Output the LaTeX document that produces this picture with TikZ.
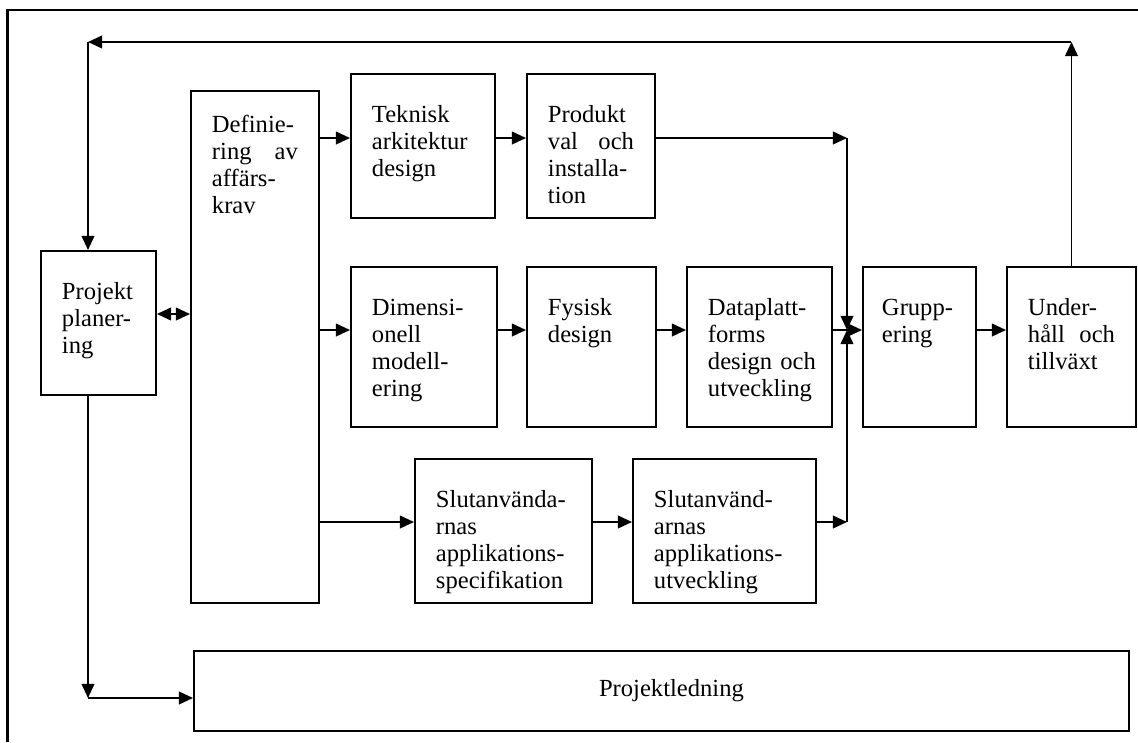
\documentclass[tikz,border=0pt]{standalone}
\usepackage{fontspec}
\setmainfont{Liberation Serif}
\usetikzlibrary{arrows.meta}

\begin{document}
\begin{tikzpicture}[x=1cm,y=1cm,
  stage/.style={draw,line width=1.4pt,anchor=north west,inner xsep=0.525cm,inner ysep=0pt,
    align=left,text height=1.225cm,font=\fontsize{17.5pt}{19.2pt}\selectfont},
  flow/.style={line width=1.3pt,-{Triangle[length=10pt,width=9pt]}},
  twoway/.style={line width=1.3pt,{Triangle[length=10pt,width=9pt]}-{Triangle[length=10pt,width=9pt]}}]
\path[use as bounding box] (0,0) rectangle (28.45,18.55);
\draw[line width=1.8pt] (0.19,0) -- (0.19,18.30) -- (28.50,18.30);
\node[stage,text width=1.825cm,text depth=2.375cm] (plan) at (1.00,12.30) {Projekt\\planer-\\ing};
\node[stage,text width=2.15cm,text height=1.05cm,text depth=11.75cm] (def) at (4.75,16.30) {Definie-\\ring \hfill av\\affärs-\\krav};
\node[stage,text width=2.55cm,text depth=2.375cm] (tek) at (8.75,16.725) {Teknisk\\arkitektur\\design};
\node[stage,text width=2.15cm,text depth=2.375cm] (prod) at (13.15,16.725) {Produkt\\val \hfill och\\installa-\\tion};
\node[stage,text width=2.60cm,text depth=2.775cm] (dim) at (8.75,11.90) {Dimensi-\\onell\\modell-\\ering};
\node[stage,text width=2.175cm,text depth=2.775cm] (fys) at (13.15,11.90) {Fysisk\\design};
\node[stage,text width=2.575cm,text depth=2.775cm] (data) at (17.15,11.90) {Dataplatt-\\forms\\\mbox{design och}\\utveckling};
\node[stage,inner xsep=0.475cm,text width=1.875cm,text depth=2.775cm] (grp) at (21.55,11.90) {\mbox{Grupp-}\\ering};
\node[stage,text width=2.175cm,text depth=2.775cm] (und) at (25.15,11.90) {Under-\\håll \hfill och\\tillväxt};
\node[stage,text width=3.375cm,text depth=2.375cm] (spec) at (10.35,7.10) {Slutanvända-\\rnas\\applikations-\\specifikation};
\node[stage,text width=3.525cm,text depth=2.375cm] (appdev) at (15.80,7.10) {Slutanvänd-\\arnas\\applikations-\\utveckling};
\node[draw,line width=1.4pt,anchor=north west,minimum width=23.375cm,minimum height=2cm,
  font=\fontsize{17.5pt}{19.2pt}\selectfont] (led) at (4.825,2.30) {\hspace*{0.5cm}Projektledning};
\coordinate (r1) at (0,15.10);
\coordinate (r2) at (0,10.30);
\coordinate (r3) at (0,5.50);
\coordinate (rp) at (0,10.70);
\coordinate (jTop) at (21.175,15.10);
\coordinate (jMid) at (21.175,10.30);
\coordinate (jLow) at (21.175,5.50);
\coordinate (fbL) at (2.20,17.50);
\coordinate (plDown) at (2.20,1.10);
\draw[flow] (und.north) -- (und.north |- fbL);
\draw[flow] (und.north |- fbL) -- (fbL);
\draw[flow] (fbL) -- (fbL |- plan.north);
\draw[flow] (plan.south -| fbL) -- (plDown);
\draw[flow] (plDown) -- (plDown -| led.west);
\draw[twoway] (plan.east |- rp) -- (def.west |- rp);
\draw[flow] (def.east |- r1) -- (tek.west |- r1);
\draw[flow] (tek.east |- r1) -- (prod.west |- r1);
\draw[flow] (prod.east |- r1) -- (jTop);
\draw[flow] (jTop) -- (jMid);
\draw[flow] (def.east |- r2) -- (dim.west |- r2);
\draw[flow] (dim.east |- r2) -- (fys.west |- r2);
\draw[flow] (fys.east |- r2) -- (data.west |- r2);
\draw[flow] (data.east |- r2) -- (grp.west |- r2);
\draw[flow] (grp.east |- r2) -- (und.west |- r2);
\draw[flow] (def.east |- r3) -- (spec.west |- r3);
\draw[flow] (spec.east |- r3) -- (appdev.west |- r3);
\draw[flow] (appdev.east |- r3) -- (jLow);
\draw[flow] (jLow) -- (jMid);
\end{tikzpicture}
\end{document}
